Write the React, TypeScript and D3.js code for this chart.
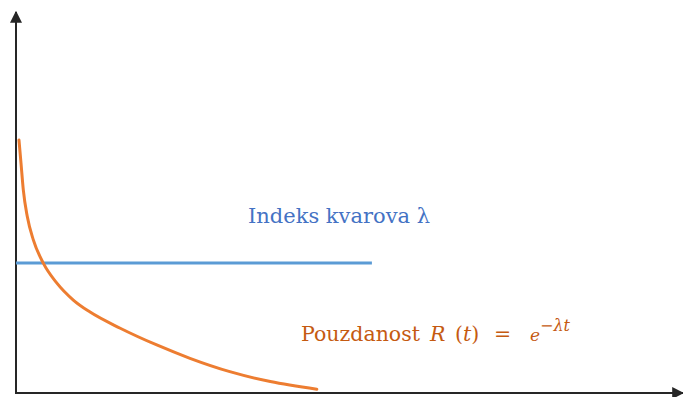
import { useEffect, useRef } from "react";
import * as d3 from "d3";

// reliability curve R(t) (t and R in % of the axis)
const curveT = [0.45, 0.75, 1.1, 1.7, 2.61, 4.11, 6.13, 8.63, 11.1, 15.7, 21.2, 26.2, 32.2, 38.3, 45.3];
const curveR = [66.4, 60.4, 53.3, 46.3, 40.2, 34.1, 28.9, 24.4, 21.3, 17.0, 12.6, 9.1, 5.6, 3.0, 1.0];

// failure rate lambda, constant
const rateT = [0, 53.6];
const rateValue = [34.1, 34.1];

const rateLabel = "Indeks kvarova λ";
const reliabilityLabel = "Pouzdanost";

const W = 683;
const H = 397;

const App = () => {
  const svgRef = useRef<SVGSVGElement | null>(null);

  useEffect(() => {
    const svg = d3.select(svgRef.current);
    svg.selectAll("*").remove();

    const xScale = d3.scaleLinear().domain([0, 100]).range([16, 680]);
    const yScale = d3.scaleLinear().domain([0, 100]).range([393, 12]);

    const axisColor = "#262626";
    const defs = svg.append("defs");
    defs
      .append("marker")
      .attr("id", "arrow")
      .attr("viewBox", "0 0 10 10")
      .attr("refX", 9)
      .attr("refY", 5)
      .attr("markerWidth", 6)
      .attr("markerHeight", 6)
      .attr("orient", "auto")
      .append("path")
      .attr("d", "M0,0 L10,5 L0,10 z")
      .attr("fill", axisColor);

    // axes
    svg
      .append("line")
      .attr("x1", xScale(0))
      .attr("y1", yScale(0) + 1)
      .attr("x2", xScale(0))
      .attr("y2", yScale(100))
      .attr("stroke", axisColor)
      .attr("stroke-width", 2)
      .attr("marker-end", "url(#arrow)");

    svg
      .append("line")
      .attr("x1", xScale(0) - 1)
      .attr("y1", yScale(0))
      .attr("x2", xScale(100) + 3)
      .attr("y2", yScale(0))
      .attr("stroke", axisColor)
      .attr("stroke-width", 2)
      .attr("marker-end", "url(#arrow)");

    const line = d3
      .line<number>()
      .x((_, i) => xScale(rateT[i]))
      .y((d) => yScale(d));

    svg
      .append("path")
      .datum(rateValue)
      .attr("d", line)
      .attr("fill", "none")
      .attr("stroke", "#5B9BD5")
      .attr("stroke-width", 3);

    const curve = d3
      .line<number>()
      .x((_, i) => xScale(curveT[i]))
      .y((d) => yScale(d))
      .curve(d3.curveMonotoneX);

    svg
      .append("path")
      .datum(curveR)
      .attr("d", curve)
      .attr("fill", "none")
      .attr("stroke", "#ED7D31")
      .attr("stroke-width", 3)
      .attr("stroke-linecap", "round");

    const serif = "'DejaVu Serif', 'Liberation Serif', serif";

    svg
      .append("text")
      .attr("x", 248)
      .attr("y", 223)
      .attr("font-family", serif)
      .attr("font-size", 21)
      .attr("fill", "#4472C4")
      .text(rateLabel);

    const formula = svg
      .append("text")
      .attr("y", 341)
      .attr("font-family", serif)
      .attr("font-size", 20.5)
      .attr("fill", "#C55A11");
    formula.append("tspan").attr("x", 301).text(reliabilityLabel);
    formula.append("tspan").attr("x", 430).attr("font-style", "italic").text("R");
    formula.append("tspan").attr("x", 455).text("(");
    formula.append("tspan").attr("font-style", "italic").text("t");
    formula.append("tspan").text(")");
    formula.append("tspan").attr("x", 494).text("=");
    formula
      .append("tspan")
      .attr("x", 530)
      .attr("font-style", "italic")
      .attr("font-size", 17)
      .text("e");
    formula
      .append("tspan")
      .attr("font-style", "italic")
      .attr("font-size", 16)
      .attr("dy", -10)
      .text("−λt");
  }, []);

  return (
    <svg
      ref={svgRef}
      width={W}
      height={H}
      style={{ position: "absolute", left: 0, top: 0, background: "#fff" }}
    />
  );
};

export default App;
